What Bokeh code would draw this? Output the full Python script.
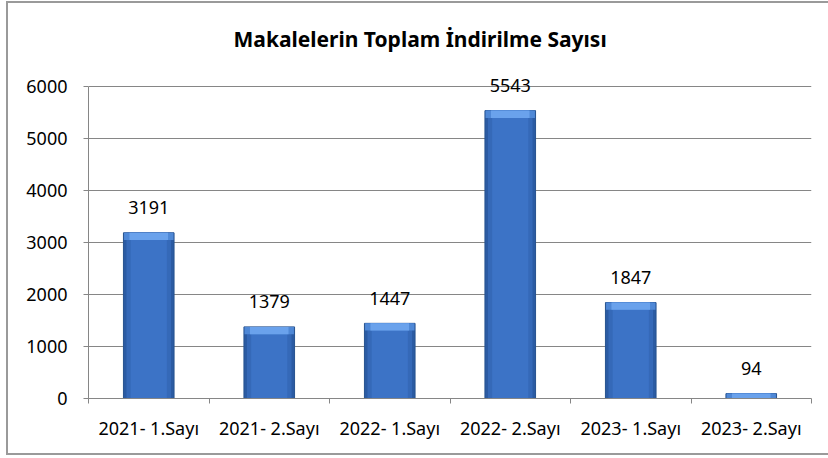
from bokeh.plotting import figure
from bokeh.models import ColumnDataSource, FixedTicker, LabelSet, Range1d
from bokeh.core.properties import value
from bokeh.embed import file_html
from bokeh.resources import INLINE

categories = ["2021- 1.Sayı", "2021- 2.Sayı", "2022- 1.Sayı", "2022- 2.Sayı", "2023- 1.Sayı", "2023- 2.Sayı"]
values = [3191, 1379, 1447, 5543, 1847, 94]
y_ticks = [0, 1000, 2000, 3000, 4000, 5000, 6000]
title_text = "Makalelerin Toplam İndirilme Sayısı"

FONT = "Noto Sans"

xs = [i + 0.5 for i in range(len(categories))]
bevel = [max(v - 140, 0) for v in values]
src = ColumnDataSource(dict(x=xs, top=values, bev=bevel, lab=[str(v) for v in values]))

p = figure(width=822, height=454, output_backend="svg", toolbar_location=None,
           x_range=Range1d(0, len(categories)), y_range=Range1d(0, 6200),
           min_border_left=80, min_border_right=19, min_border_top=72, min_border_bottom=59,
           title=title_text)
p.styles = {"margin-left": "6px", "margin-top": "1px",
            "border-left": "2px solid #9a9a9a", "border-top": "2px solid #9a9a9a",
            "border-bottom": "2px solid #9a9a9a", "box-sizing": "border-box"}
p.outline_line_color = None
p.background_fill_color = "white"
p.border_fill_color = "white"

p.title.align = "left"
p.title.offset = 145
p.title.standoff = 43
p.title.vertical_align = "top"
p.title.text_font = FONT
p.title.text_font_size = "21px"
p.title.text_font_style = "bold"
p.title.text_color = "#000000"

# bars: layered fills for a simple bevelled look
p.vbar(x="x", top="top", bottom=0, width=0.42, source=src, fill_color="#2b5ba3", line_color="#27528f", line_width=1)
p.vbar(x="x", top="top", bottom=0, width=0.37, source=src, fill_color="#3569b8", line_color=None)
p.vbar(x="x", top="top", bottom=0, width=0.30, source=src, fill_color="#3c73c6", line_color=None)
p.vbar(x="x", top="top", bottom="bev", width=0.41, source=src, fill_color="#4f88d6", line_color=None)
p.vbar(x="x", top="top", bottom="bev", width=0.32, source=src, fill_color="#6aa2ec", line_color=None)

labels = LabelSet(x="x", y="top", text="lab", source=src, text_align="center", text_baseline="middle",
                  y_offset=25, text_font=value(FONT), text_font_size=value("18px"), text_color="#000000")
p.add_layout(labels)

# y axis
p.yaxis.ticker = FixedTicker(ticks=y_ticks)
p.yaxis.bounds = (0, 6000)
p.yaxis.axis_line_color = "#868686"
p.yaxis.major_tick_line_color = "#868686"
p.yaxis.major_tick_out = 5
p.yaxis.major_tick_in = 0
p.yaxis.minor_tick_line_color = None
p.yaxis.major_label_standoff = 16
p.yaxis.major_label_text_font = FONT
p.yaxis.major_label_text_font_size = "18px"
p.yaxis.major_label_text_color = "#000000"

# x axis: labels at centres, tick marks at category boundaries
p.xaxis.ticker = FixedTicker(ticks=xs, minor_ticks=list(range(len(categories) + 1)))
p.xaxis.major_label_overrides = {x: c for x, c in zip(xs, categories)}
p.xaxis.axis_line_color = "#868686"
p.xaxis.major_tick_line_color = None
p.xaxis.major_tick_out = 0
p.xaxis.major_tick_in = 0
p.xaxis.minor_tick_line_color = "#868686"
p.xaxis.minor_tick_out = 5
p.xaxis.minor_tick_in = 0
p.xaxis.major_label_standoff = 12
p.xaxis.major_label_text_font = FONT
p.xaxis.major_label_text_font_size = "18px"
p.xaxis.major_label_text_color = "#000000"

p.xgrid.grid_line_color = None
p.ygrid.ticker = FixedTicker(ticks=y_ticks)
p.ygrid.grid_line_color = "#868686"
p.ygrid.grid_line_width = 1

open("out.html", "w").write(file_html(p, INLINE))
